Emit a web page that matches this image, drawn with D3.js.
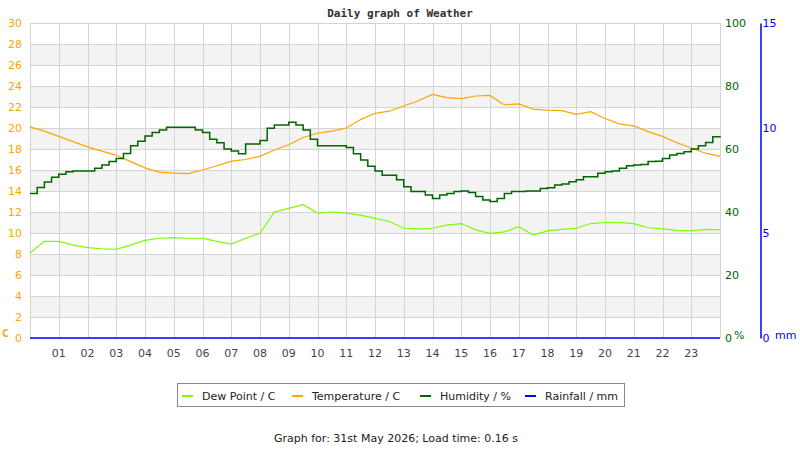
<!DOCTYPE html>
<html>
<head>
<meta charset="utf-8">
<script src="https://cdn.jsdelivr.net/npm/d3@7"></script>
<style>
  body { margin: 0; background: #fff; }
  svg { display: block; }
</style>
</head>
<body>
<svg width="800" height="450"></svg>
<script>
// half-hour readings for temperature / dew point / rain
var hours = [0,0.5,1,1.5,2,2.5,3,3.5,4,4.5,5,5.5,6,6.5,7,7.5,8,8.5,9,9.5,10,10.5,11,11.5,12,
             12.5,13,13.5,14,14.5,15,15.5,16,16.5,17,17.5,18,18.5,19,19.5,20,20.5,21,21.5,22,22.5,23,23.5,24];
var temperature = [20.1,19.7,19.2,18.7,18.2,17.8,17.4,16.8,16.2,15.8,15.7,15.65,16.0,16.4,16.85,17.0,17.3,17.9,18.4,19.1,19.5,19.7,20.0,20.8,21.4,
                   21.6,22.1,22.6,23.2,22.9,22.8,23.05,23.1,22.2,22.3,21.8,21.7,21.65,21.3,21.55,20.9,20.4,20.2,19.65,19.2,18.6,18.1,17.6,17.3];
var dewPoint = [8.1,9.2,9.2,8.85,8.6,8.5,8.45,8.85,9.3,9.5,9.55,9.5,9.5,9.2,8.95,9.5,9.97,12.0,12.35,12.7,11.9,12.0,11.9,11.7,11.4,
                11.1,10.45,10.4,10.45,10.75,10.9,10.3,9.97,10.1,10.6,9.8,10.2,10.35,10.45,10.9,11.0,11.0,10.9,10.5,10.4,10.25,10.2,10.35,10.3];
var rainfall = [0,0,0,0,0,0,0,0,0,0,0,0,0,0,0,0,0,0,0,0,0,0,0,0,0,
                0,0,0,0,0,0,0,0,0,0,0,0,0,0,0,0,0,0,0,0,0,0,0,0];

// quarter-hour humidity readings
var humHours = [0,0.25,0.5,0.75,1,1.25,1.5,1.75,2,2.25,2.5,2.75,3,3.25,3.5,3.75,4,4.25,4.5,4.75,5,5.25,5.5,5.75,
                6,6.25,6.5,6.75,7,7.25,7.5,7.75,8,8.25,8.5,8.75,9,9.25,9.5,9.75,10,10.25,10.5,10.75,11,11.25,11.5,11.75,
                12,12.25,12.5,12.75,13,13.25,13.5,13.75,14,14.25,14.5,14.75,15,15.25,15.5,15.75,16,16.25,16.5,16.75,17,17.25,17.5,17.75,
                18,18.25,18.5,18.75,19,19.25,19.5,19.75,20,20.25,20.5,20.75,21,21.25,21.5,21.75,22,22.25,22.5,22.75,23,23.25,23.5,23.75,24];
var humidity = [45.9,47.8,49.5,51.0,52.0,52.8,53.0,53.0,53.0,53.9,54.9,56.0,57.0,58.6,61.0,62.5,64.1,65.2,66.0,66.9,66.9,66.9,66.9,66.0,
                65.2,63.1,62.0,60.0,59.4,58.5,61.6,61.6,62.7,66.6,67.6,67.6,68.5,67.6,66.0,63.1,61.0,61.0,61.0,61.0,60.5,58.5,56.5,54.5,
                53.0,51.7,51.7,50.2,48.0,46.5,46.5,45.4,44.3,45.4,45.9,46.5,46.7,46.2,44.9,43.8,43.3,44.3,45.9,46.5,46.5,46.7,46.7,47.5,
                47.7,48.6,48.9,49.6,50.2,51.2,51.2,52.3,52.8,53.0,53.9,54.7,54.9,55.1,56.0,56.1,57.0,58.1,58.6,59.1,60.0,61.0,62.1,63.9,64.1];

var hourLabels = ["01","02","03","04","05","06","07","08","09","10","11","12",
                  "13","14","15","16","17","18","19","20","21","22","23"];
var tempTicks = [0,2,4,6,8,10,12,14,16,18,20,22,24,26,28,30];
var humTicks = [0,20,40,60,80,100];
var rainTicks = [0,5,10,15];

var legendItems = [
  {name:"Dew Point / C", color:"#7cfc00"},
  {name:"Temperature / C", color:"#ffa500"},
  {name:"Humidity / %", color:"#006400"},
  {name:"Rainfall / mm", color:"#0000ff"}
];

var svg = d3.select("svg");
var plot = {left:30, right:720, top:23, bottom:338};

var x = d3.scaleLinear().domain([0,24]).range([plot.left, plot.right]);
var yT = d3.scaleLinear().domain([0,30]).range([plot.bottom, plot.top]);
var yH = d3.scaleLinear().domain([0,100]).range([plot.bottom, plot.top]);
var yR = d3.scaleLinear().domain([0,15]).range([plot.bottom, plot.top]);

// bands
var bands = tempTicks.filter(function(t){ return t % 4 == 2 && t < 30; });
svg.append("g").selectAll("rect")
  .data(bands).enter().append("rect")
  .attr("x", plot.left)
  .attr("width", plot.right - plot.left)
  .attr("y", function(d){ return yT(d+2); })
  .attr("height", function(d){ return yT(d) - yT(d+2); })
  .attr("fill", "#f3f3f3");

// grid
svg.append("g").selectAll("line")
  .data(tempTicks).enter().append("line")
  .attr("x1", plot.left).attr("x2", plot.right)
  .attr("y1", function(d){ return Math.round(yT(d)) + 0.5; })
  .attr("y2", function(d){ return Math.round(yT(d)) + 0.5; })
  .attr("stroke", "#d4d4d4");
svg.append("g").selectAll("line")
  .data(d3.range(0,25)).enter().append("line")
  .attr("x1", function(d){ return Math.round(x(d)) + 0.5; })
  .attr("x2", function(d){ return Math.round(x(d)) + 0.5; })
  .attr("y1", plot.top).attr("y2", plot.bottom)
  .attr("stroke", "#d4d4d4");

// title
svg.append("text")
  .attr("x", 400).attr("y", 17)
  .attr("text-anchor", "middle")
  .style("font", "bold 11px 'DejaVu Sans Mono'")
  .attr("fill", "#333")
  .text("Daily graph of Weather");

// left axis
var leftAxis = svg.append("g")
  .attr("transform", "translate(" + (plot.left - 6) + ",0)")
  .call(d3.axisLeft(yT).tickValues(tempTicks).tickSize(0).tickPadding(2));
leftAxis.select(".domain").remove();
leftAxis.selectAll("text")
  .attr("fill", "#ffa500")
  .style("font", "11px 'DejaVu Sans'");
svg.append("text")
  .attr("x", 2).attr("y", 337)
  .style("font", "bold 11px 'DejaVu Sans Mono'")
  .attr("fill", "#ffa500")
  .text("C");

// humidity axis
var humAxis = svg.append("g")
  .attr("transform", "translate(" + (plot.right + 2) + ",0)")
  .call(d3.axisRight(yH).tickValues(humTicks).tickSize(0).tickPadding(3));
humAxis.select(".domain").remove();
humAxis.selectAll("text")
  .attr("fill", "#006400")
  .style("font", "11px 'DejaVu Sans'");
svg.append("text")
  .attr("x", 734).attr("y", 339)
  .style("font", "11px 'DejaVu Sans'")
  .attr("fill", "#006400")
  .text("%");

// rain axis
var rainAxis = svg.append("g")
  .attr("transform", "translate(760.5,0)")
  .call(d3.axisRight(yR).tickValues(rainTicks).tickSize(0).tickPadding(2));
rainAxis.select(".domain").attr("stroke", "#0000ff").attr("stroke-width", 1.5);
rainAxis.selectAll("text")
  .attr("fill", "#0000ff")
  .style("font", "11px 'DejaVu Sans'");
svg.append("text")
  .attr("x", 775).attr("y", 339)
  .style("font", "11px 'DejaVu Sans'")
  .attr("fill", "#0000ff")
  .text("mm");

// x axis labels
svg.append("g").selectAll("text")
  .data(hourLabels).enter().append("text")
  .attr("x", function(d){ return x(+d); })
  .attr("y", 357)
  .attr("text-anchor", "middle")
  .style("font", "11px 'DejaVu Sans'")
  .attr("fill", "#444")
  .text(function(d){ return d; });

// series
function series(hs, vals, scale){
  return hs.map(function(h,i){ return [x(h), scale(vals[i])]; });
}
var stepLine = d3.line().curve(d3.curveStepAfter);

svg.append("path")
  .attr("d", d3.line()(series(hours, dewPoint, yT)))
  .attr("fill", "none").attr("stroke", "#7cfc00").attr("stroke-width", 1.2);
svg.append("path")
  .attr("d", d3.line()(series(hours, temperature, yT)))
  .attr("fill", "none").attr("stroke", "#ffa500").attr("stroke-width", 1.2);
svg.append("path")
  .attr("d", stepLine(series(humHours, humidity, yH)))
  .attr("fill", "none").attr("stroke", "#006400").attr("stroke-width", 1.5);
svg.append("path")
  .attr("d", d3.line()(series(hours, rainfall, yR)))
  .attr("fill", "none").attr("stroke", "#0000ff").attr("stroke-width", 1.5);

// legend
var lg = svg.append("g");
lg.append("rect")
  .attr("x", 177.5).attr("y", 383.5)
  .attr("width", 447).attr("height", 23)
  .attr("fill", "#fff").attr("stroke", "#888");
var lx = [182, 292, 420, 525];
var item = lg.selectAll("g.item")
  .data(legendItems).enter().append("g")
  .attr("class", "item")
  .attr("transform", function(d,i){ return "translate(" + lx[i] + ",0)"; });
item.append("line")
  .attr("x1", 0).attr("x2", 11)
  .attr("y1", 396).attr("y2", 396)
  .attr("stroke", function(d){ return d.color; })
  .attr("stroke-width", 2);
item.append("text")
  .attr("x", 20).attr("y", 400)
  .style("font", "11px 'DejaVu Sans'")
  .attr("fill", "#222")
  .text(function(d){ return d.name; });

// footer
svg.append("text")
  .attr("x", 396).attr("y", 442)
  .attr("text-anchor", "middle")
  .style("font", "11px 'DejaVu Sans'")
  .attr("fill", "#222")
  .text("Graph for: 31st May 2026; Load time: 0.16 s");
</script>
</body>
</html>
